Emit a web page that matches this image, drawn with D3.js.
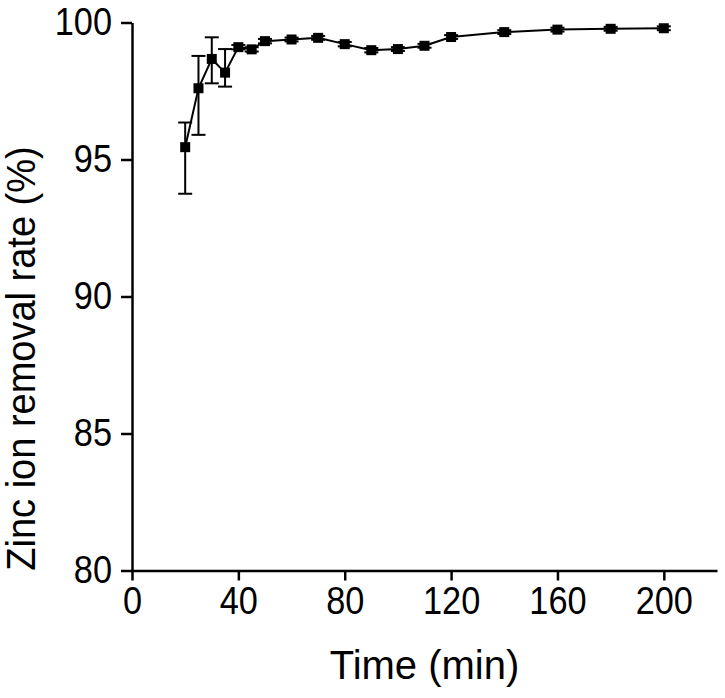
<!DOCTYPE html>
<html>
<head>
<meta charset="utf-8">
<script src="https://cdn.jsdelivr.net/npm/d3@7"></script>
<style>
  body { margin: 0; background: #fff; }
  text { font-family: "Liberation Sans", Arial, sans-serif; fill: #000; }
</style>
</head>
<body>
<svg id="chart-svg" width="725" height="698"></svg>
<script>
// data
const times = [20, 25, 30, 35, 40, 45, 50, 60, 70, 80, 90, 100, 110, 120, 140, 160, 180, 200];
const rates = [95.45, 97.60, 98.67, 98.17, 99.10, 99.02, 99.32, 99.38, 99.44, 99.21, 98.99, 99.03, 99.15, 99.47, 99.65, 99.74, 99.77, 99.79];
const errHigh = [96.35, 98.78, 99.46, 99.03, 99.18, 99.10, 99.40, 99.45, 99.51, 99.29, 99.07, 99.10, 99.22, 99.54, 99.72, 99.81, 99.84, 99.86];
const errLow = [93.75, 95.90, 97.78, 97.66, 99.02, 98.94, 99.24, 99.31, 99.37, 99.13, 98.91, 98.96, 99.08, 99.40, 99.58, 99.67, 99.70, 99.72];
const xTicks = [0, 40, 80, 120, 160, 200];
const yTicks = [80, 85, 90, 95, 100];

const svg = d3.select("#chart-svg");
const margin = { top: 22.5, right: 8, bottom: 127.5, left: 132 };
const W = 725, H = 698;
const squeeze = 0.88; // tick labels in the original look a bit narrow

const data = times.map((t, i) => ({ t: t, v: rates[i], hi: errHigh[i], lo: errLow[i] }));

const x = d3.scaleLinear()
    .domain([0, 220])
    .range([margin.left, W - margin.right]);

const y = d3.scaleLinear()
    .domain([80, 100])
    .range([H - margin.bottom, margin.top]);

// axes
const xAxis = svg.append("g")
    .attr("transform", `translate(0, ${y(80)})`)
    .call(d3.axisBottom(x).tickValues(xTicks).tickSize(10).tickSizeOuter(0).tickPadding(6));

const yAxis = svg.append("g")
    .attr("transform", `translate(${x(0)}, 0)`)
    .call(d3.axisLeft(y).tickValues(yTicks).tickSize(11).tickSizeOuter(0).tickPadding(9));

[xAxis, yAxis].forEach(g => {
    g.select(".domain").attr("stroke", "#000").attr("stroke-width", 2.5);
    g.selectAll(".tick line").attr("stroke", "#000").attr("stroke-width", 2.5);
    g.selectAll(".tick text")
        .style("font-family", "'Liberation Sans', Arial, sans-serif")
        .style("font-size", "39px")
        .attr("fill", "#000")
        .attr("transform", `scale(${squeeze},1)`);
});
yAxis.selectAll(".tick text").attr("x", -20 / squeeze);

// error bars
const capW = 7;
const eb = svg.append("g").attr("stroke", "#000").attr("stroke-width", 2);
data.forEach(d => {
    eb.append("line")
        .attr("x1", x(d.t)).attr("x2", x(d.t))
        .attr("y1", y(d.hi)).attr("y2", y(d.lo));
    eb.append("line")
        .attr("x1", x(d.t) - capW).attr("x2", x(d.t) + capW)
        .attr("y1", y(d.hi)).attr("y2", y(d.hi));
    eb.append("line")
        .attr("x1", x(d.t) - capW).attr("x2", x(d.t) + capW)
        .attr("y1", y(d.lo)).attr("y2", y(d.lo));
});

// line
const line = d3.line().x(d => x(d.t)).y(d => y(d.v));
svg.append("path")
    .datum(data)
    .attr("fill", "none")
    .attr("stroke", "#000")
    .attr("stroke-width", 2)
    .attr("d", line);

// square markers
svg.selectAll(".marker")
    .data(data)
    .enter()
    .append("rect")
    .attr("class", "marker")
    .attr("x", d => x(d.t) - 5)
    .attr("y", d => y(d.v) - 5)
    .attr("width", 10)
    .attr("height", 10)
    .attr("fill", "#000");

// axis titles
svg.append("text")
    .attr("x", (x(0) + x(220)) / 2)
    .attr("y", 679)
    .attr("text-anchor", "middle")
    .style("font-size", "40px")
    .text("Time (min)");

svg.append("text")
    .attr("transform", `translate(35, ${(y(80) + y(100)) / 2 + 62}) rotate(-90) scale(0.95,1)`)
    .attr("text-anchor", "middle")
    .style("font-size", "40px")
    .text("Zinc ion removal rate (%)");
</script>
</body>
</html>
